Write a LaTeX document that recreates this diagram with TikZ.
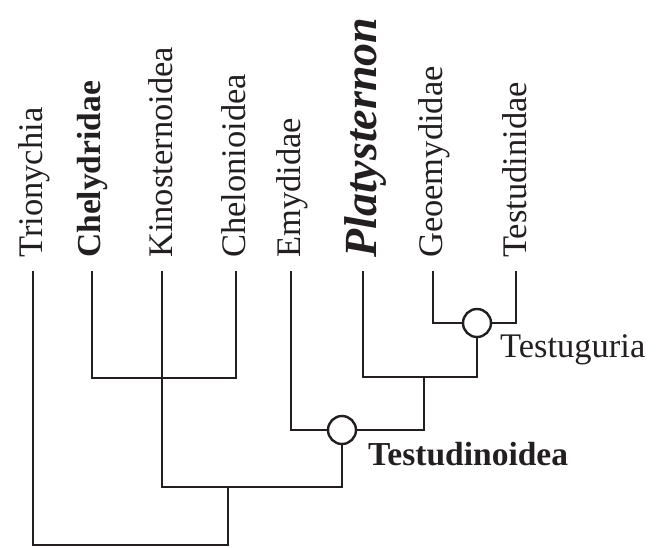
\documentclass[tikz,border=0pt]{standalone}
\usepackage{fontspec}
\setmainfont{Liberation Serif}
\definecolor{ink}{HTML}{231F20}
\begin{document}
\begin{tikzpicture}[x=1pt,y=-1pt,
  branch/.style={line width=2.4pt,draw=ink,line join=miter,line cap=rect},
  lab/.style={rotate=90,anchor=base west,inner sep=0pt,text=ink,font=\fontsize{34.5}{40}\selectfont},
  blab/.style={lab,font=\fontsize{33.5}{40}\selectfont\bfseries},
  plab/.style={lab,font=\fontsize{46}{52}\selectfont\bfseries\itshape},
  clade/.style={draw=ink,line width=2.4pt,circle,minimum size=28pt,inner sep=0pt,fill=white},
  cname/.style={anchor=base west,inner sep=0pt,text=ink,font=\fontsize{34.5}{40}\selectfont},
  bcname/.style={cname,font=\fontsize{33.5}{40}\selectfont\bfseries}]
\useasboundingbox (0,0) rectangle (670,547);
% labels
\node[lab]  (Ltri) at (42,258)  {Trionychia};
\node[blab] (Lchy) at (100,258) {Chelydridae};
\node[lab]  (Lkin) at (172,258) {Kinosternoidea};
\node[lab]  (Lchl) at (245,258) {Chelonioidea};
\node[lab]  (Lemy) at (300,258) {Emydidae};
\node[plab] (Lpla) at (376,258) {Platysternon};
\node[lab]  (Lgeo) at (442,258) {Geoemydidae};
\node[lab]  (Ltes) at (526,258) {Testudinidae};
% tips
\coordinate (tri) at (33,272);
\coordinate (chy) at (92,272);
\coordinate (kin) at (162,272);
\coordinate (chl) at (236,272);
\coordinate (emy) at (291,272);
\coordinate (pla) at (363,272);
\coordinate (geo) at (433,272);
\coordinate (tes) at (516,272);
% clade circles
\node[clade] (tg) at (477,323) {};
\node[clade] (td) at (342,430) {};
\node[cname]  (Ltg) at (500,357) {Testuguria};
\node[bcname] (Ltd) at (368,465) {Testudinoidea};
% junctions
\coordinate (root) at (228,545);
\coordinate (n2) at (228,487);
\coordinate (tdB) at (342,487);
\coordinate (chlB) at (236,378);
\coordinate (n4) at (424,377);
\coordinate (tgB) at (477,377);
% branches
\draw[branch] (tri) |- (root) -- (n2);
\draw[branch] (kin) |- (tdB) -- (td.south);
\draw[branch] (chy) |- (chlB) -- (chl);
\draw[branch] (emy) |- (td.west);
\draw[branch] (td.east) -| (n4);
\draw[branch] (pla) |- (tgB) -- (tg.south);
\draw[branch] (geo) |- (tg.west);
\draw[branch] (tes) |- (tg.east);
\end{tikzpicture}
\end{document}
